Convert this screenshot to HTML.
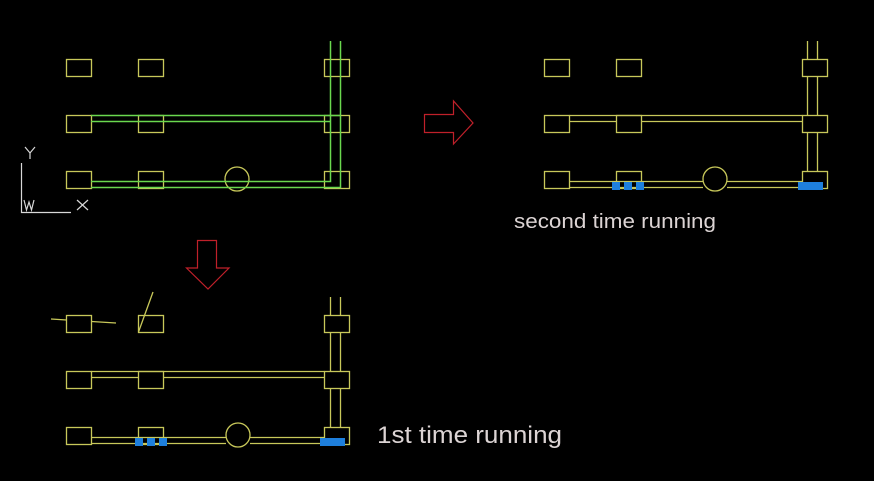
<!DOCTYPE html>
<html><head><meta charset="utf-8"><style>
html,body{margin:0;padding:0;background:#000;}
svg{display:block;}
text{font-family:"Liberation Sans",sans-serif;}
</style></head><body>
<svg width="874" height="481" viewBox="0 0 874 481" xmlns="http://www.w3.org/2000/svg">
<rect width="874" height="481" fill="#000"/>
<g fill="none" stroke-width="1.3">
<!-- TOP LEFT -->
<g stroke="#c8c85a">
<rect x="66.5" y="59.5" width="25" height="17"/><rect x="138.5" y="59.5" width="25" height="17"/><rect x="324.5" y="59.5" width="25" height="17"/>
<rect x="66.5" y="115.5" width="25" height="17"/><rect x="138.5" y="115.5" width="25" height="17"/><rect x="324.5" y="115.5" width="25" height="17"/>
<rect x="66.5" y="171.5" width="25" height="17"/><rect x="138.5" y="171.5" width="25" height="17"/><rect x="324.5" y="171.5" width="25" height="17"/>
<circle cx="237" cy="179" r="12"/>
</g>
<g stroke="#6ad84e" stroke-width="1.5">
<polyline points="91,115.5 340.5,115.5"/>
<polyline points="91,121.5 330.5,121.5"/>
<polyline points="91,181.5 330.5,181.5 330.5,41"/>
<polyline points="91,187.5 340.5,187.5 340.5,41"/>
</g>
<!-- axis -->
<g stroke="#d8d8d8" stroke-width="1.2">
<polyline points="21.5,163 21.5,212.5 71,212.5"/>
<polyline points="25,147 30,153 35,147"/><line x1="30" y1="153" x2="30" y2="159"/>
<line x1="77" y1="200" x2="88" y2="210"/><line x1="88" y1="200" x2="77" y2="210"/>
<polyline points="24,200 26.5,210 29,202 31.5,210 34,200"/>
</g>
<!-- RIGHT -->
<g stroke="#c8c85a">
<rect x="544.5" y="59.5" width="25" height="17"/><rect x="616.5" y="59.5" width="25" height="17"/><rect x="802.5" y="59.5" width="25" height="17"/>
<rect x="544.5" y="115.5" width="25" height="17"/><rect x="616.5" y="115.5" width="25" height="17"/><rect x="802.5" y="115.5" width="25" height="17"/>
<rect x="544.5" y="171.5" width="25" height="17"/><rect x="616.5" y="171.5" width="25" height="17"/><rect x="802.5" y="171.5" width="25" height="17"/>
<line x1="807.5" y1="41" x2="807.5" y2="59.5"/><line x1="817.5" y1="41" x2="817.5" y2="59.5"/>
<line x1="807.5" y1="76.5" x2="807.5" y2="115.5"/><line x1="817.5" y1="76.5" x2="817.5" y2="115.5"/>
<line x1="807.5" y1="132.5" x2="807.5" y2="171.5"/><line x1="817.5" y1="132.5" x2="817.5" y2="171.5"/>
<line x1="569.5" y1="115.5" x2="802.5" y2="115.5"/>
<line x1="569.5" y1="121.5" x2="616.5" y2="121.5"/><line x1="641.5" y1="121.5" x2="802.5" y2="121.5"/>
<line x1="569.5" y1="181.5" x2="703" y2="181.5"/><line x1="727" y1="181.5" x2="802.5" y2="181.5"/>
<line x1="569.5" y1="187.5" x2="703" y2="187.5"/><line x1="727" y1="187.5" x2="802.5" y2="187.5"/>
<circle cx="715" cy="179" r="12"/>
</g>
<!-- BOTTOM -->
<g stroke="#c8c85a">
<rect x="66.5" y="315.5" width="25" height="17"/><rect x="138.5" y="315.5" width="25" height="17"/><rect x="324.5" y="315.5" width="25" height="17"/>
<rect x="66.5" y="371.5" width="25" height="17"/><rect x="138.5" y="371.5" width="25" height="17"/><rect x="324.5" y="371.5" width="25" height="17"/>
<rect x="66.5" y="427.5" width="25" height="17"/><rect x="138.5" y="427.5" width="25" height="17"/><rect x="324.5" y="427.5" width="25" height="17"/>
<line x1="51" y1="319" x2="66.5" y2="320"/><line x1="91.5" y1="321.5" x2="116" y2="323"/>
<line x1="138.5" y1="332" x2="153" y2="292"/>
<line x1="330.5" y1="297" x2="330.5" y2="315.5"/><line x1="340.5" y1="297" x2="340.5" y2="315.5"/>
<line x1="330.5" y1="332.5" x2="330.5" y2="371.5"/><line x1="340.5" y1="332.5" x2="340.5" y2="371.5"/>
<line x1="330.5" y1="388.5" x2="330.5" y2="427.5"/><line x1="340.5" y1="388.5" x2="340.5" y2="427.5"/>
<line x1="91.5" y1="371.5" x2="324.5" y2="371.5"/>
<line x1="91.5" y1="377.5" x2="138.5" y2="377.5"/><line x1="163.5" y1="377.5" x2="324.5" y2="377.5"/>
<line x1="91.5" y1="437.5" x2="226" y2="437.5"/><line x1="250" y1="437.5" x2="324.5" y2="437.5"/>
<line x1="91.5" y1="443.5" x2="226" y2="443.5"/><line x1="250" y1="443.5" x2="324.5" y2="443.5"/>
<circle cx="238" cy="435" r="12"/>
</g>
<!-- arrows -->
<g stroke="#c0202a" stroke-width="1.2">
<polygon points="424.5,114.5 453.5,114.5 453.5,101 473,123 453.5,144 453.5,132.5 424.5,132.5"/>
<polygon points="197.5,240.5 216.5,240.5 216.5,268 229,268 208,289 186.5,268 197.5,268"/>
</g>
</g>
<!-- blue -->
<g fill="#1e7fdc">
<rect x="612" y="182" width="8" height="8"/><rect x="624" y="182" width="8" height="8"/><rect x="636" y="182" width="8" height="8"/>
<rect x="798" y="182" width="25" height="8"/>
<rect x="135" y="438" width="8" height="8"/><rect x="147" y="438" width="8" height="8"/><rect x="159" y="438" width="8" height="8"/>
<rect x="320" y="438" width="25" height="8"/>
</g>
<text x="514" y="228" font-size="20" fill="#dcd4d4" textLength="202" lengthAdjust="spacingAndGlyphs">second time running</text>
<text x="377" y="443" font-size="24" fill="#dcd4d4" textLength="185" lengthAdjust="spacingAndGlyphs">1st time running</text>
</svg>
</body></html>
